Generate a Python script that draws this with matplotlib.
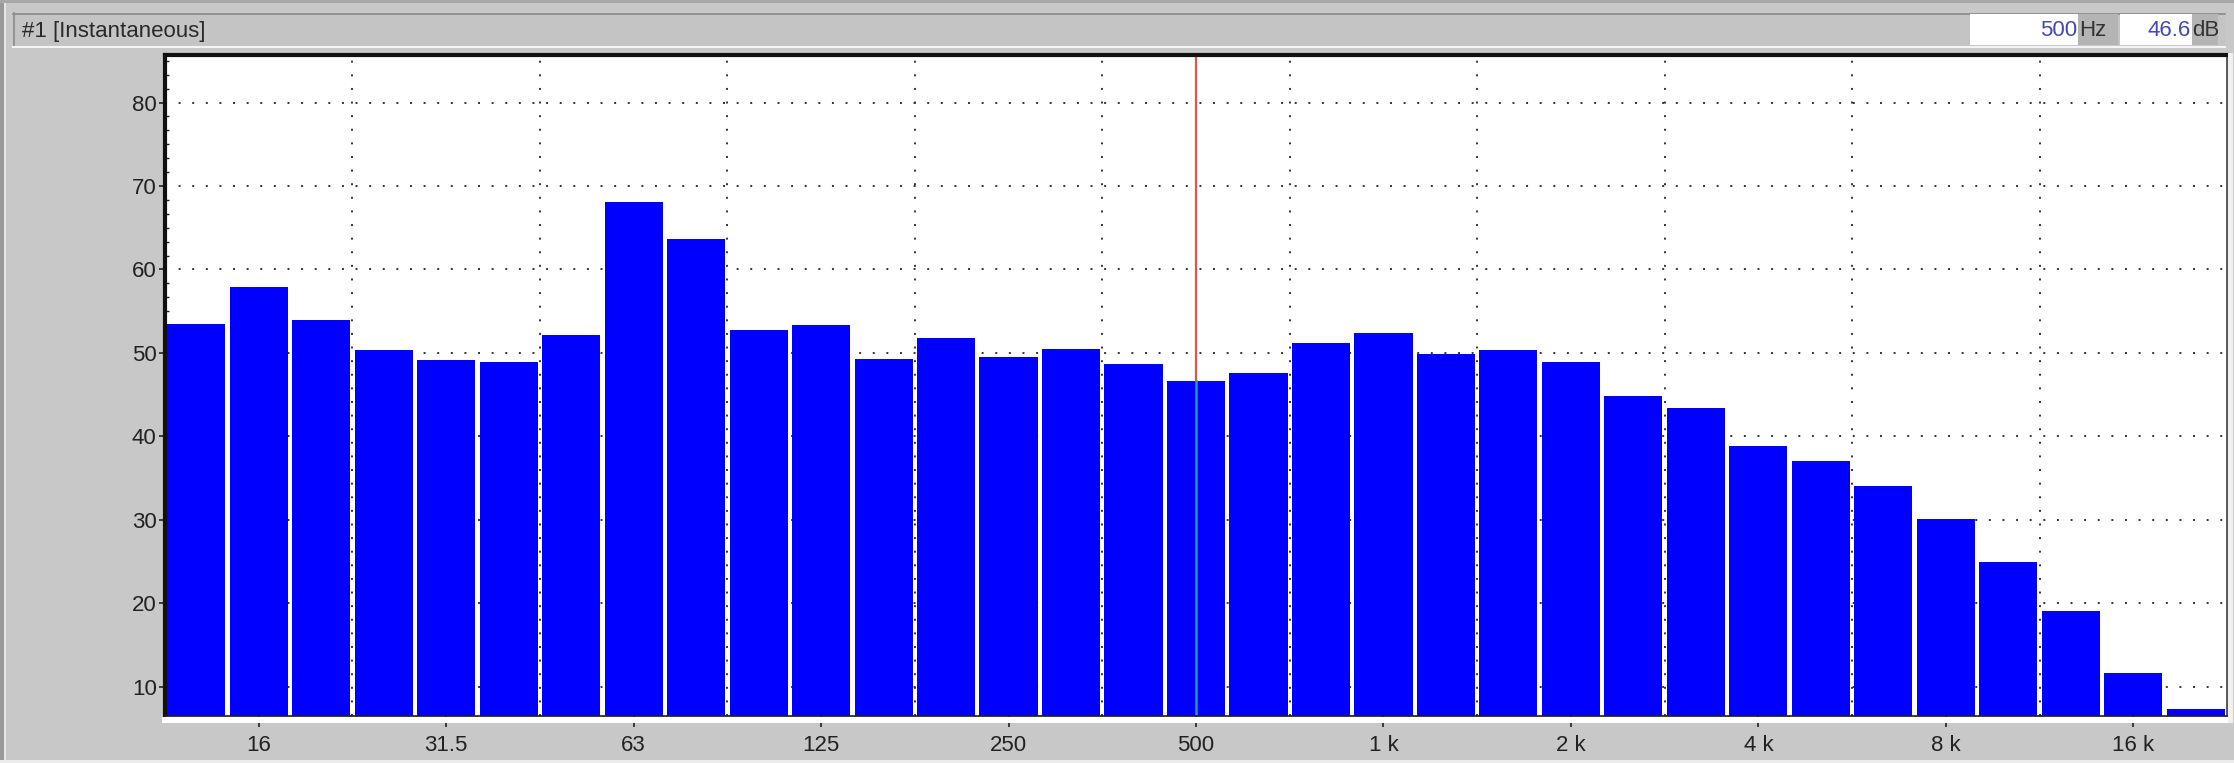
import matplotlib
matplotlib.use('Agg')
import matplotlib.pyplot as plt
from matplotlib.patches import Rectangle
from matplotlib.lines import Line2D
from matplotlib.ticker import MultipleLocator

# ---- data -------------------------------------------------------------
bands = ['12.5', '16', '20', '25', '31.5', '40', '50', '63', '80', '100',
         '125', '160', '200', '250', '315', '400', '500', '630', '800',
         '1 k', '1.25 k', '1.6 k', '2 k', '2.5 k', '3.15 k', '4 k', '5 k',
         '6.3 k', '8 k', '10 k', '12.5 k', '16 k', '20 k']
levels = [53.5, 57.9, 53.9, 50.3, 49.1, 48.9, 52.2, 68.1, 63.6, 52.7,
          53.3, 49.3, 51.8, 49.5, 50.5, 48.7, 46.6, 47.6, 51.2, 52.4,
          49.9, 50.3, 48.9, 44.8, 43.4, 38.9, 37.0, 34.1, 30.1, 25.0,
          19.1, 11.7, 7.3]
tick_labels = ['16', '31.5', '63', '125', '250', '500', '1 k', '2 k',
               '4 k', '8 k', '16 k']
y_ticks = [10, 20, 30, 40, 50, 60, 70, 80]
cursor_band = '500'
cursor_hz_text = '500'
cursor_db_text = '46.6'
title_text = '#1 [Instantaneous]'

# ---- figure -----------------------------------------------------------
W, H = 2234, 763
DPI = 100
BG = '#c8c8c8'
FONT = 'Liberation Sans'

fig = plt.figure(figsize=(W / DPI, H / DPI), dpi=DPI, facecolor=BG)


def fx(x):
    return x / W


def fy(y):
    return 1 - y / H


def rect(x0, y0, x1, y1, color, z=1):
    r = Rectangle((fx(x0), fy(y1)), fx(x1) - fx(x0), fy(y0) - fy(y1),
                  transform=fig.transFigure, facecolor=color,
                  edgecolor='none', zorder=z)
    fig.add_artist(r)


def hline(x0, x1, y, color, lw=1.0, z=2):
    fig.add_artist(Line2D([fx(x0), fx(x1)], [fy(y), fy(y)],
                          transform=fig.transFigure, color=color,
                          lw=lw, zorder=z))


def vline(x, y0, y1, color, lw=1.0, z=2):
    fig.add_artist(Line2D([fx(x), fx(x)], [fy(y0), fy(y1)],
                          transform=fig.transFigure, color=color,
                          lw=lw, zorder=z))


# window edges
rect(0, 0, 4, H, '#9a9a9a')
rect(4, 0, 6, H, '#e6e6e6')
rect(0, 0, W, 3, '#a8a8a8')
rect(0, H - 3, W, H, '#ececec')

# header bar
rect(13, 13, 2225, 47, '#c4c4c4')
hline(13, 2225, 13.5, '#8a8a8a', lw=1.2)
vline(13.5, 13, 47, '#8a8a8a', lw=1.2)
hline(13, 2225, 46.5, '#f4f4f4', lw=1.5)
fig.text(fx(22), fy(31), title_text, fontsize=16, family=FONT,
         color='#2a2a2a', ha='left', va='center')

# readout boxes
rect(1970, 14, 2078, 45, 'white', z=2)
rect(2078, 14, 2118, 45, '#b4b4b4', z=2)
rect(2120, 14, 2192, 45, 'white', z=2)
rect(2192, 14, 2218, 45, '#b4b4b4', z=2)
fig.text(fx(2077), fy(30), cursor_hz_text, fontsize=16, family=FONT,
         color='#4646b4', ha='right', va='center', zorder=3)
fig.text(fx(2079), fy(30), 'Hz', fontsize=16, family=FONT,
         color='#333333', ha='left', va='center', zorder=3)
fig.text(fx(2191), fy(30), cursor_db_text, fontsize=16, family=FONT,
         color='#4646b4', ha='right', va='center', zorder=3)
fig.text(fx(2192), fy(30), 'dB', fontsize=16, family=FONT,
         color='#333333', ha='left', va='center', zorder=3)

# ---- axes -------------------------------------------------------------
AX_L, AX_R, AX_T, AX_B = 165, 2227, 55, 716
ax = fig.add_axes([fx(AX_L), fy(AX_B), fx(AX_R) - fx(AX_L),
                   fy(AX_T) - fy(AX_B)])
ax.set_facecolor('white')

x = list(range(len(bands)))
ax.bar(x, levels, width=0.93, bottom=0, color='#0000ff',
       edgecolor='none', zorder=3)

ax.set_xlim(-0.5, len(bands) - 0.5)
ax.set_ylim(6.5, 85.7)

# grid (dotted)
dots = (0, (1, 6))
for yv in y_ticks:
    ax.axhline(yv, color='#333333', lw=1.4, ls=dots, zorder=1)
for k in range(1, len(bands) // 3):
    ax.axvline(3 * k - 0.5, color='#333333', lw=1.4, ls=dots, zorder=1)

# cursor line
ci = bands.index(cursor_band)
clev = levels[ci]
ax.plot([ci, ci], [clev, 85.7], color='#d8584a', lw=1.6, zorder=5)
ax.plot([ci, ci], [6.5, clev], color='#2a9aa8', lw=1.8, zorder=5)

# ticks
tick_pos = [bands.index(t) for t in tick_labels]
ax.set_xticks(tick_pos)
ax.set_xticklabels(tick_labels)
ax.set_yticks(y_ticks)
ax.set_yticklabels([str(v) for v in y_ticks])
ax.yaxis.set_minor_locator(MultipleLocator(10 / 6))
ax.tick_params(axis='x', direction='out', length=8, width=1.2,
               pad=6, labelsize=16, colors='#222222')
ax.tick_params(axis='y', which='major', direction='out', length=4,
               width=1.2, pad=2, labelsize=16, colors='#222222')
ax.tick_params(axis='y', which='minor', direction='in', length=3,
               width=1.0, colors='#222222')
for lab in ax.get_xticklabels() + ax.get_yticklabels():
    lab.set_family(FONT)

# spines (sunken look)
ax.spines['left'].set_linewidth(3.0)
ax.spines['top'].set_linewidth(3.0)
ax.spines['left'].set_color('#111111')
ax.spines['top'].set_color('#111111')
ax.spines['bottom'].set_linewidth(1.2)
ax.spines['right'].set_linewidth(1.2)
ax.spines['bottom'].set_color('#202020')
ax.spines['right'].set_color('#404040')
for s in ax.spines.values():
    s.set_zorder(6)

# white bevel below and right of the plot
rect(162, 717, 2233, 723, 'white', z=3)
rect(2228, 53, 2233, 723, '#f0f0f0', z=3)

fig.savefig('out.png', dpi=DPI, facecolor=BG)
